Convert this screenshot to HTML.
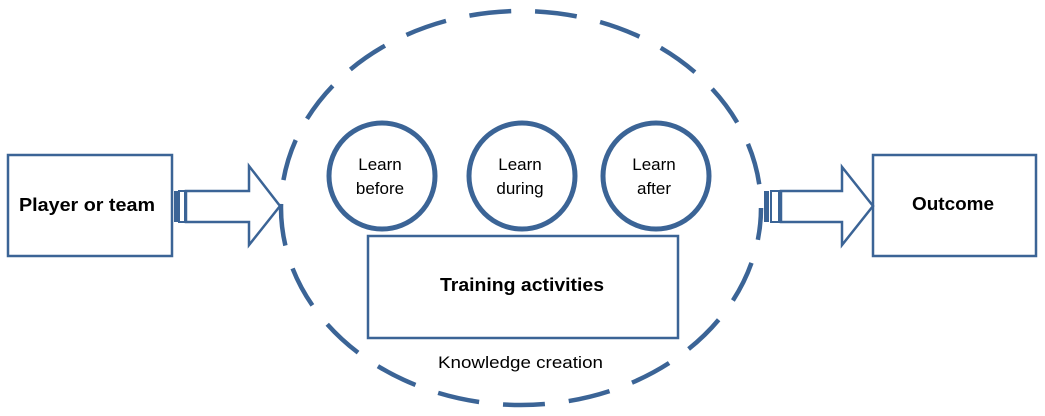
<!DOCTYPE html>
<html><head><meta charset="utf-8"><style>
html,body{margin:0;padding:0;background:#fff;}
svg{display:block}
text{font-family:"Liberation Sans",Arial,sans-serif;fill:#000}
</style></head><body>
<svg width="1045" height="416" viewBox="0 0 1045 416" xmlns="http://www.w3.org/2000/svg">
<g fill="none" stroke="#3b6496">
<ellipse cx="521" cy="208" rx="240" ry="197" stroke-width="4.5" stroke-dasharray="42 24" stroke-dashoffset="10"/>
<rect x="8" y="155" width="164" height="101" stroke-width="2.5"/>
<rect x="873" y="155" width="163" height="101" stroke-width="2.5"/>
<rect x="368" y="236" width="310" height="102" stroke-width="2.5"/>
<circle cx="382" cy="176" r="53" stroke-width="5"/>
<circle cx="522" cy="176" r="53" stroke-width="5"/>
<circle cx="656" cy="176" r="53" stroke-width="5"/>
<rect x="174" y="191" width="4" height="31" fill="#3b6496" stroke="none"/>
<rect x="179" y="191" width="6" height="31" stroke-width="2"/>
<path d="M186 191 H249 V166 L280 206 L249 245 V222 H186 Z" stroke-width="2.5" fill="#fff"/>
<rect x="764" y="191" width="5" height="31" fill="#3b6496" stroke="none"/>
<rect x="771" y="191" width="8" height="31" stroke-width="2"/>
<path d="M781 191 H842 V167 L873 206 L842 245 V222 H781 Z" stroke-width="2.5" fill="#fff"/>
</g>
<text x="19" y="211" font-size="18" font-weight="bold" textLength="136" lengthAdjust="spacingAndGlyphs">Player or team</text>
<text x="912" y="210" font-size="18" font-weight="bold" textLength="82" lengthAdjust="spacingAndGlyphs">Outcome</text>
<text x="440" y="291" font-size="18" font-weight="bold" textLength="164" lengthAdjust="spacingAndGlyphs">Training activities</text>
<text x="438" y="368" font-size="17" textLength="165" lengthAdjust="spacingAndGlyphs">Knowledge creation</text>
<g font-size="17" text-anchor="middle">
<text x="380" y="170">Learn</text><text x="380" y="194">before</text>
<text x="520" y="170">Learn</text><text x="520" y="194">during</text>
<text x="654" y="170">Learn</text><text x="654" y="194">after</text>
</g>
</svg>
</body></html>
